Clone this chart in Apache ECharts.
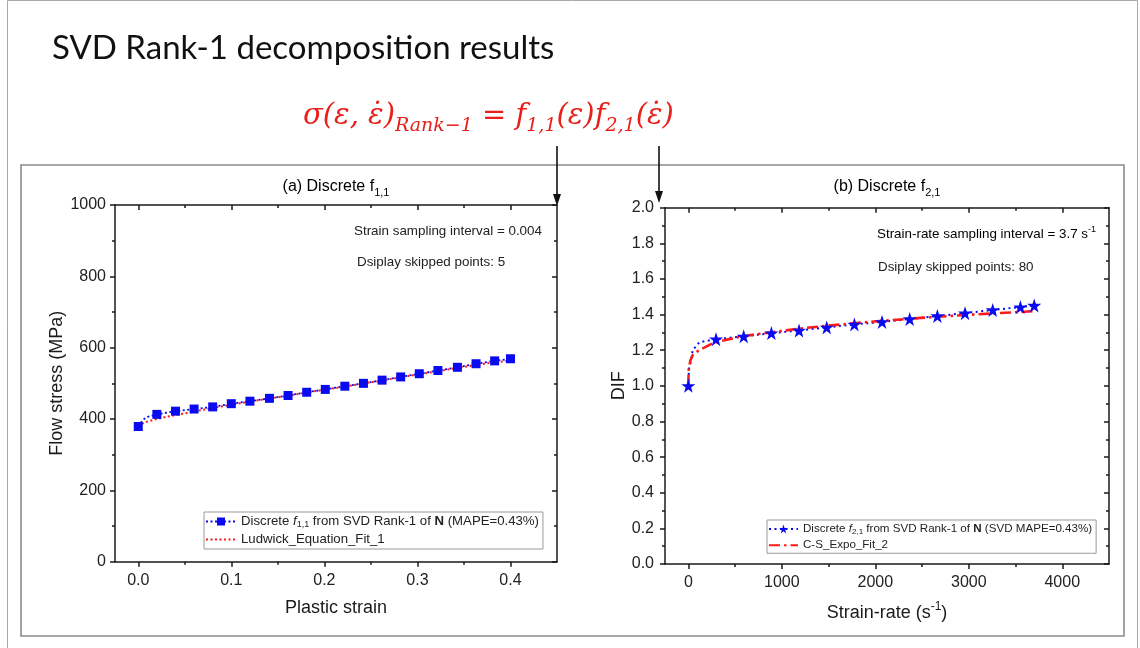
<!DOCTYPE html>
<html>
<head>
<meta charset="utf-8">
<script src="https://cdn.jsdelivr.net/npm/echarts@6/dist/echarts.min.js"></script>
<style>
  html, body { margin: 0; padding: 0; background: #ffffff; }
  #chart { width: 1140px; height: 648px; }
</style>
</head>
<body>
<div id="chart"></div>
<script>
// (a) discrete f1,1 : plastic strain vs flow stress (MPa), every 5th sample marked
const strainMarks = [0, 0.020, 0.040, 0.060, 0.080, 0.100, 0.120, 0.141, 0.161, 0.181, 0.201,
                     0.222, 0.242, 0.262, 0.282, 0.302, 0.322, 0.343, 0.363, 0.383, 0.400];
const stressMarks = [379, 413, 422, 428, 434, 443, 450, 458, 466, 475, 483,
                     492, 500, 509, 518, 527, 536, 545, 555, 563, 569];
// unmarked samples of the discrete curve near yield
const strainBend = [0.005, 0.010];
const stressBend = [398, 406];
// Ludwick fit
const strainFit = [0, 0.005, 0.010, 0.020, 0.030, 0.040, 0.060, 0.080, 0.100, 0.120, 0.140, 0.160,
                   0.180, 0.200, 0.220, 0.240, 0.260, 0.280, 0.300, 0.320, 0.340, 0.360, 0.380, 0.400];
const stressFit = [379, 388, 393, 400, 406, 411, 421, 431, 440, 449, 457, 465,
                   474, 482, 490, 499, 507, 516, 525, 533, 542, 550, 558, 564];

// (b) discrete f2,1 : strain-rate (1/s) vs DIF, every 80th sample marked
const rateMarks = [0, 296, 592, 888, 1184, 1480, 1776, 2072, 2368, 2664, 2960, 3256, 3552, 3700];
const difMarks  = [1.000, 1.262, 1.278, 1.296, 1.311, 1.328, 1.345, 1.359, 1.375, 1.392, 1.408, 1.426, 1.442, 1.451];
const rateBend = [5, 29, 46, 118];
const difBend  = [1.090, 1.145, 1.200, 1.245];
// Cowper-Symonds exponential fit
const rateFit = [0, 3, 20, 46, 100, 153, 260, 400, 600, 900, 1200, 1500, 1800, 2100, 2400, 2700, 3000, 3300, 3600, 3700];
const difFit  = [1.000, 1.090, 1.140, 1.173, 1.195, 1.210, 1.239, 1.258, 1.280, 1.302, 1.322, 1.338,
                 1.353, 1.366, 1.378, 1.389, 1.399, 1.408, 1.416, 1.420];

// axis ticks
const strainTicks = [0, 0.1, 0.2, 0.3, 0.4];
const strainMinor = [0.05, 0.15, 0.25, 0.35];
const rateTicks = [0, 1000, 2000, 3000, 4000];
const rateMinor = [500, 1500, 2500, 3500];

const SANS = '"Liberation Sans", Arial, sans-serif';
const MATH = '"DejaVu Serif", serif';
const INK = '#1a1a1a';
const BLUE = '#0a0af0';
const RED = '#ff1a1a';
const FORMULA_RED = '#e8201c';

function pairs(xs, ys) { return xs.map((x, i) => [x, ys[i]]); }

// marked samples keep their symbol, the others only shape the dotted line
function markedCurve(mx, my, bx, by) {
  const items = mx.map((x, i) => ({ value: [x, my[i]] }))
    .concat(bx.map((x, i) => ({ value: [x, by[i]], symbol: 'none' })));
  return items.sort((a, b) => a.value[0] - b.value[0]);
}

const lineStyleAxis = { color: INK, width: 1.5 };

function xAxesFor(grid, min, max, majors, minors, fmt, name, nameGap, rich) {
  const base = {
    type: 'value', gridIndex: grid, min: min, max: max,
    splitLine: { show: false },
    axisLine: { show: true, onZero: false, lineStyle: lineStyleAxis }
  };
  const hidden = { show: true, onZero: false, lineStyle: { color: 'rgba(0,0,0,0)' } };
  return [
    Object.assign({}, base, {
      position: 'bottom',
      name: name, nameLocation: 'middle', nameGap: nameGap,
      nameTextStyle: { fontFamily: SANS, fontSize: 18, color: INK, rich: rich },
      axisTick: { customValues: majors, length: 5, lineStyle: lineStyleAxis },
      axisLabel: { customValues: majors, formatter: fmt, margin: 11, fontFamily: SANS, fontSize: 16, color: '#222' }
    }),
    Object.assign({}, base, {
      position: 'bottom', axisLine: hidden,
      axisTick: { customValues: minors, length: 3, lineStyle: lineStyleAxis },
      axisLabel: { show: false }
    }),
    Object.assign({}, base, {
      position: 'top',
      axisTick: { customValues: majors, inside: true, length: 5, lineStyle: lineStyleAxis },
      axisLabel: { show: false }
    }),
    Object.assign({}, base, {
      position: 'top', axisLine: hidden,
      axisTick: { customValues: minors, inside: true, length: 3, lineStyle: lineStyleAxis },
      axisLabel: { show: false }
    })
  ];
}

function yAxesFor(grid, max, interval, fmt, name, nameGap, margin) {
  const base = {
    type: 'value', gridIndex: grid, min: 0, max: max, interval: interval,
    splitLine: { show: false },
    axisLine: { show: true, onZero: false, lineStyle: lineStyleAxis },
    minorTick: { show: true, splitNumber: 2, length: 3, lineStyle: lineStyleAxis }
  };
  return [
    Object.assign({}, base, {
      position: 'left',
      name: name, nameLocation: 'middle', nameGap: nameGap,
      nameTextStyle: { fontFamily: SANS, fontSize: 18, color: INK },
      axisTick: { length: 5, lineStyle: lineStyleAxis },
      axisLabel: { formatter: fmt, margin: margin, fontFamily: SANS, fontSize: 16, color: '#222' }
    }),
    Object.assign({}, base, {
      position: 'right',
      axisTick: { inside: true, length: 5, lineStyle: lineStyleAxis },
      axisLabel: { show: false }
    })
  ];
}

const subRich = function (size, lh) {
  return {
    t: { fontFamily: SANS, fontSize: size, lineHeight: lh, verticalAlign: 'middle', color: '#222' },
    i: { fontFamily: SANS, fontSize: size, lineHeight: lh, verticalAlign: 'middle', fontStyle: 'italic', color: '#222' },
    b: { fontFamily: SANS, fontSize: size, lineHeight: lh, verticalAlign: 'middle', fontWeight: 'bold', color: '#222' },
    s: { fontFamily: SANS, fontSize: Math.round(size * 0.68), lineHeight: Math.round(size * 0.68), verticalAlign: 'bottom', color: '#222' },
    u: { fontFamily: SANS, fontSize: Math.round(size * 0.68), lineHeight: Math.round(size * 0.68), verticalAlign: 'top', color: '#222' }
  };
};

const nameF11 = 'Discrete f1,1 from SVD Rank-1 of N (MAPE=0.43%)';
const nameLud = 'Ludwick_Equation_Fit_1';
const nameF21 = 'Discrete f2,1 from SVD Rank-1 of N (SVD MAPE=0.43%)';
const nameCS = 'C-S_Expo_Fit_2';
const legendText = {};
legendText[nameF11] = '{t|Discrete }{i|f}{s|1,1}{t| from SVD Rank-1 of }{b|N}{t| (MAPE=0.43%)}';
legendText[nameLud] = '{t|Ludwick_Equation_Fit_1}';
legendText[nameF21] = '{t|Discrete }{i|f}{s|2,1}{t| from SVD Rank-1 of }{b|N}{t| (SVD MAPE=0.43%)}';
legendText[nameCS] = '{t|C-S_Expo_Fit_2}';

// fitted curves are plain lines: hide the legend marker
const lineOnlyItem = name => ({ name: name, itemStyle: { opacity: 0 } });

const chart = echarts.init(document.getElementById('chart'), null, { renderer: 'canvas' });

const option = {
  animation: false,
  backgroundColor: '#ffffff',
  grid: [
    { left: 115, top: 205, width: 442, height: 356.7, containLabel: false },
    { left: 665, top: 207.7, width: 444, height: 356.3, containLabel: false }
  ],
  xAxis: []
    .concat(xAxesFor(0, -0.025, 0.45, strainTicks, strainMinor, v => v.toFixed(1), 'Plastic strain', 37))
    .concat(xAxesFor(1, -250, 4500, rateTicks, rateMinor, v => String(v), '{n|Strain-rate (s}{u|-1}{n|)}', 37,
      { n: { fontFamily: SANS, fontSize: 18, lineHeight: 24, verticalAlign: 'middle', color: INK },
        u: { fontFamily: SANS, fontSize: 12, lineHeight: 12, verticalAlign: 'top', color: INK } })),
  yAxis: []
    .concat(yAxesFor(0, 1000, 200, v => String(v), 'Flow stress (MPa)', 48, 9))
    .concat(yAxesFor(1, 2, 0.2, v => v.toFixed(1), 'DIF', 37, 11)),
  legend: [
    {
      data: [nameF11, lineOnlyItem(nameLud)],
      orient: 'vertical', left: 204, top: 512,
      padding: [3, 4, 3, 1], itemGap: 4, itemWidth: 30, itemHeight: 10,
      borderColor: '#9a9a9a', borderWidth: 1, backgroundColor: '#ffffff',
      formatter: n => legendText[n],
      textStyle: { fontFamily: SANS, fontSize: 13.2, color: '#222', rich: subRich(13.2, 15) }
    },
    {
      data: [nameF21, lineOnlyItem(nameCS)],
      orient: 'vertical', left: 767, top: 520,
      padding: [3, 4, 2, 1], itemGap: 3.5, itemWidth: 29, itemHeight: 11,
      borderColor: '#9a9a9a', borderWidth: 1, backgroundColor: '#ffffff',
      formatter: n => legendText[n],
      textStyle: { fontFamily: SANS, fontSize: 11.6, color: '#222', rich: subRich(11.6, 13.5) }
    }
  ],
  series: [
    {
      name: nameF11, type: 'line', xAxisIndex: 0, yAxisIndex: 0,
      data: markedCurve(strainMarks, stressMarks, strainBend, stressBend),
      symbol: 'rect', symbolSize: 9, color: BLUE,
      itemStyle: { color: BLUE },
      lineStyle: { color: BLUE, width: 1.8, type: [2, 2.5] }
    },
    {
      name: nameLud, type: 'line', xAxisIndex: 0, yAxisIndex: 0,
      data: pairs(strainFit, stressFit), symbol: 'none', color: RED,
      lineStyle: { color: RED, width: 2, type: [2, 2.5] }
    },
    {
      name: nameF21, type: 'line', xAxisIndex: 4, yAxisIndex: 2,
      data: markedCurve(rateMarks, difMarks, rateBend, difBend),
      symbol: 'path://M50,0 L61.8,35.4 L99,35.4 L69.1,57.3 L80.4,93 L50,71 L19.6,93 L30.9,57.3 L1,35.4 L38.2,35.4 Z',
      symbolSize: 14, color: BLUE,
      itemStyle: { color: BLUE },
      lineStyle: { color: BLUE, width: 2, type: [2, 3.5] }
    },
    {
      name: nameCS, type: 'line', xAxisIndex: 4, yAxisIndex: 2,
      data: pairs(rateFit, difFit), symbol: 'none', color: RED,
      lineStyle: { color: RED, width: 2.6, type: [11, 4, 2.5, 4] }
    }
  ],
  graphic: [
    // slide frame and figure frame
    { type: 'rect', silent: true, z: -10,
      shape: { x: 7.5, y: 0.5, width: 1130, height: 700 },
      style: { fill: 'none', stroke: '#a8a8a8', lineWidth: 1 } },
    { type: 'rect', silent: true, z: -9,
      shape: { x: 21, y: 165, width: 1103, height: 471 },
      style: { fill: '#ffffff', stroke: '#8c8c8c', lineWidth: 1.6 } },
    // slide heading
    { type: 'text', silent: true,
      style: { x: 52, y: 48, text: 'SVD Rank-1 decomposition results', fill: '#111111',
               font: '33px Lato, "Open Sans", sans-serif', verticalAlign: 'middle' } },
    // rank-1 product formula
    { type: 'text', silent: true,
      style: {
        x: 303, y: 116, verticalAlign: 'middle',
        text: '{m|σ(ε, ε̇)}{s|Rank−1}{m| = }{m|f}{s|1,1}{m|(ε)}{m|f}{s|2,1}{m|(ε̇)}',
        rich: {
          m: { fontFamily: MATH, fontStyle: 'italic', fontSize: 29, lineHeight: 40, verticalAlign: 'middle', fill: FORMULA_RED },
          s: { fontFamily: MATH, fontStyle: 'italic', fontSize: 19, lineHeight: 19, verticalAlign: 'bottom', fill: FORMULA_RED }
        }
      } },
    // arrows from the two factors down to their panels
    { type: 'line', silent: true, shape: { x1: 557, y1: 146, x2: 557, y2: 198 }, style: { stroke: '#111', lineWidth: 1.6 } },
    { type: 'polygon', silent: true, shape: { points: [[553, 194], [561, 194], [557, 206]] }, style: { fill: '#111' } },
    { type: 'line', silent: true, shape: { x1: 659, y1: 146, x2: 659, y2: 195 }, style: { stroke: '#111', lineWidth: 1.6 } },
    { type: 'polygon', silent: true, shape: { points: [[655, 191], [663, 191], [659, 203]] }, style: { fill: '#111' } },
    // panel titles
    { type: 'text', silent: true,
      style: { x: 336, y: 187, align: 'center', verticalAlign: 'middle',
               text: '{t|(a) Discrete f}{s|1,1}', rich: subRich(16, 22) } },
    { type: 'text', silent: true,
      style: { x: 887, y: 187, align: 'center', verticalAlign: 'middle',
               text: '{t|(b) Discrete f}{s|2,1}', rich: subRich(16, 22) } },
    // sampling notes
    { type: 'text', silent: true,
      style: { x: 354, y: 231, verticalAlign: 'middle', text: 'Strain sampling interval = 0.004',
               font: '13.4px ' + SANS, fill: '#222' } },
    { type: 'text', silent: true,
      style: { x: 357, y: 262, verticalAlign: 'middle', text: 'Dsiplay skipped points: 5',
               font: '13.4px ' + SANS, fill: '#222' } },
    { type: 'text', silent: true,
      style: { x: 877, y: 234, verticalAlign: 'middle',
               text: '{t|Strain-rate sampling interval = 3.7 s}{u|-1}', rich: subRich(13.4, 18) } },
    { type: 'text', silent: true,
      style: { x: 878, y: 267, verticalAlign: 'middle', text: 'Dsiplay skipped points: 80',
               font: '13.4px ' + SANS, fill: '#222' } }
  ]
};

chart.setOption(option);
</script>
</body>
</html>
